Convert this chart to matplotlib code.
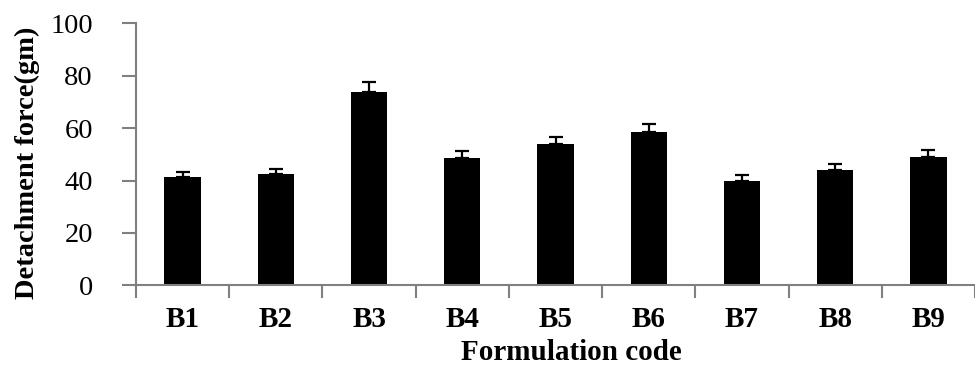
import matplotlib
matplotlib.use("Agg")
import matplotlib.pyplot as plt
import numpy as np

categories = ["B1", "B2", "B3", "B4", "B5", "B6", "B7", "B8", "B9"]
values = [41.2, 42.5, 73.7, 48.5, 53.9, 58.4, 39.7, 43.9, 48.9]
errors = [2.0, 2.0, 4.0, 2.8, 2.8, 3.3, 2.5, 2.4, 2.7]
yticks = [0, 20, 40, 60, 80, 100]

W, H = 975, 367
fig = plt.figure(figsize=(W / 100, H / 100), dpi=100)
ax = fig.add_axes([136 / W, (H - 285.3) / H, 1 - 136 / W, (285.3 - 23.3) / H])

x = np.arange(len(categories))
ax.bar(x, values, width=0.39, color="black", zorder=2)
ax.errorbar(x, values, yerr=[np.zeros(len(errors)), errors], fmt="none",
            ecolor="black", elinewidth=1.6, capsize=4.7, capthick=1.6, zorder=3)

ax.set_ylim(0, 100)
ax.set_xlim(-0.5, -0.5 + (W - 136) / 96.5)
ax.set_yticks(yticks)
ax.set_yticklabels([str(t) for t in yticks], fontfamily="Liberation Serif", fontsize=20.5)

# x ticks at category boundaries, labels at centers
ax.set_xticks(np.arange(-0.5, len(categories), 1.0))
ax.set_xticklabels([])
ax.set_xticks(x, minor=True)
ax.set_xticklabels(categories, minor=True)
for lab in ax.get_xticklabels(minor=True):
    lab.set_fontfamily("Liberation Serif")
    lab.set_fontsize(21)
    lab.set_fontweight("bold")
ax.tick_params(axis="x", which="minor", length=0, pad=15)
ax.tick_params(axis="x", which="major", direction="out", length=9, width=1.5, color="#808080")
ax.tick_params(axis="y", direction="out", length=10, width=1.5, color="#808080", pad=21)

for s in ["top", "right"]:
    ax.spines[s].set_visible(False)
for s in ["left", "bottom"]:
    ax.spines[s].set_color("#808080")
    ax.spines[s].set_linewidth(1.5)

fig.text(571 / W, 7 / H, "Formulation code", fontfamily="Liberation Serif",
         fontsize=21, fontweight="bold", ha="center", va="baseline")
fig.text(27 / W, (H - 162.5) / H, "Detachment force(gm)", fontfamily="Liberation Serif",
         fontsize=20.5, fontweight="bold", rotation=90, ha="center", va="center")

fig.savefig("out.png", dpi=100)
